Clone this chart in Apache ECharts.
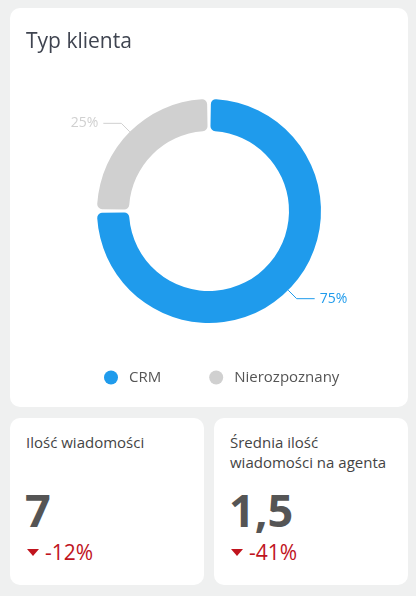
<!DOCTYPE html>
<html><head><meta charset="utf-8">
<script src="https://cdn.jsdelivr.net/npm/echarts@6/dist/echarts.min.js"></script>
<style>
html,body{margin:0;padding:0;background:#eff0f0;width:416px;height:596px;overflow:hidden;font-family:"Open Sans",sans-serif;}
.card{position:absolute;background:#fff;border-radius:10px;}
#top{left:10px;top:8px;width:398px;height:399px;}
#chart{position:absolute;left:0;top:0;width:398px;height:399px;}
.title{position:absolute;left:16px;top:18px;font-size:21px;color:#3f4450;}
.kt{position:absolute;left:16px;top:14px;font-size:15px;line-height:20px;color:#444;}
.kv{position:absolute;left:15px;top:62px;font-size:45px;font-weight:700;color:#555;line-height:60px;}
.kd{position:absolute;left:17px;top:120px;font-size:21px;color:#c0141e;line-height:28px;}
.tri{display:inline-block;width:0;height:0;border-left:6px solid transparent;border-right:6px solid transparent;border-top:7px solid #c0141e;vertical-align:middle;margin-right:6px;position:relative;top:-2px;}
</style></head>
<body>
<div class="card" id="top"><div id="chart"></div><div class="title">Typ klienta</div></div>
<div class="card" style="left:10px;top:418px;width:194px;height:167px;">
  <div class="kt">Ilość wiadomości</div>
  <div class="kv" id="v1"></div>
  <div class="kd"><span class="tri"></span><span id="d1"></span></div>
</div>
<div class="card" style="left:214px;top:418px;width:194px;height:167px;">
  <div class="kt">Średnia ilość<br>wiadomości na agenta</div>
  <div class="kv" id="v2"></div>
  <div class="kd"><span class="tri"></span><span id="d2"></span></div>
</div>
<script>
const categories = ['CRM', 'Nierozpoznany'];
const values = [75, 25];
const colors = ['#1f9bec', '#d0d0d0'];
const kpiValues = ['7', '1,5'];
const kpiDeltas = ['-12%', '-41%'];

document.getElementById('v1').textContent = kpiValues[0];
document.getElementById('v2').textContent = kpiValues[1];
document.getElementById('d1').textContent = kpiDeltas[0];
document.getElementById('d2').textContent = kpiDeltas[1];

const chart = echarts.init(document.getElementById('chart'));
chart.setOption({
  animation: false,
  color: colors,
  legend: {
    left: 89, top: 357,
    icon: 'circle', itemWidth: 14, itemHeight: 14, itemGap: 48,
    textStyle: { fontFamily: 'Open Sans', fontSize: 15, color: '#555', padding: [0,0,0,6] },
    data: categories
  },
  series: [{
    type: 'pie',
    center: [199, 203],
    radius: [80, 112],
    startAngle: 90,
    padAngle: 2,
    itemStyle: { borderRadius: 5 },
    label: { show: true, formatter: '{c}%', fontFamily: 'Open Sans', fontSize: 14 },
    labelLine: { show: true, length: 12, length2: 18, lineStyle: { width: 1 } },
    emphasis: { disabled: true },
    data: categories.map((c, i) => ({ name: c, value: values[i], label: { color: colors[i] } }))
  }]
});
</script>
</body></html>
